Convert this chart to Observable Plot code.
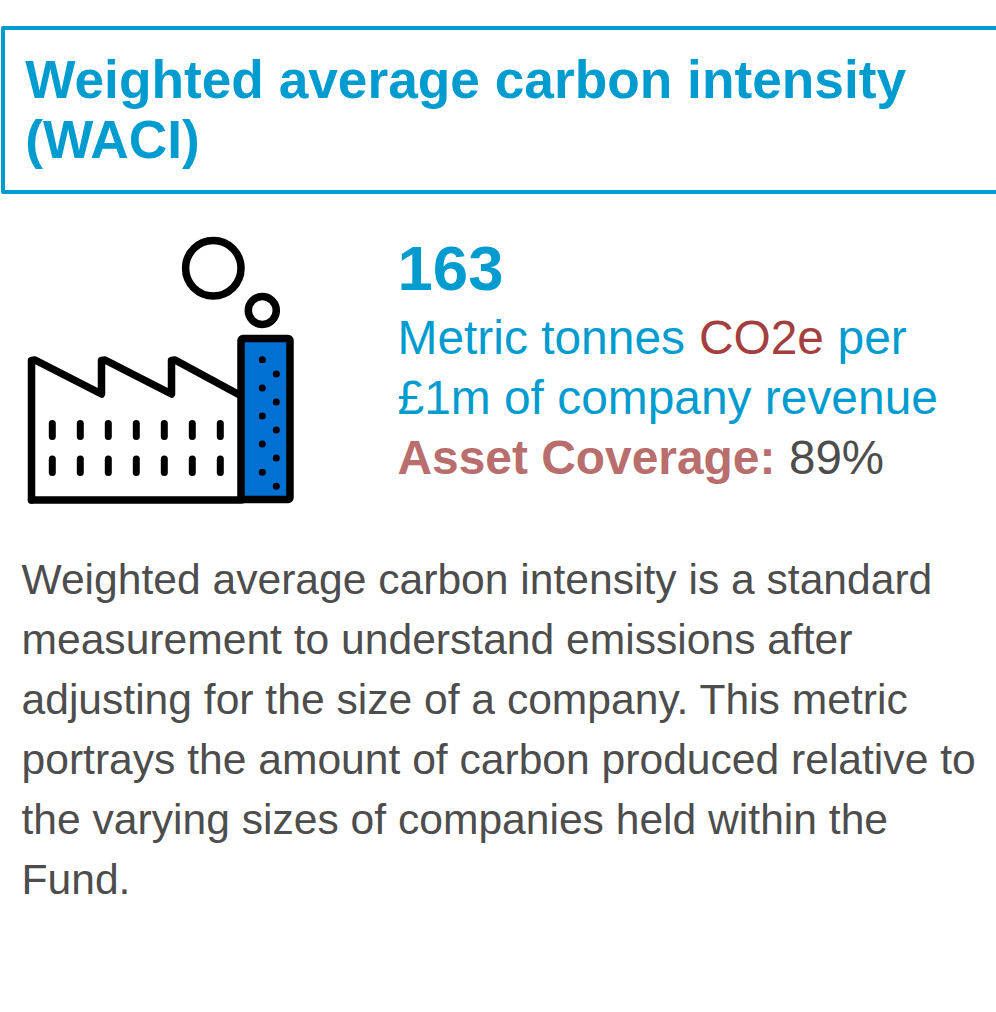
<!DOCTYPE html>
<html>
<head>
<meta charset="utf-8">
<style>html,body{margin:0;padding:0;background:#fff;overflow:hidden}svg{display:block}</style>
<script src="https://cdn.jsdelivr.net/npm/d3@7"></script>
<script src="https://cdn.jsdelivr.net/npm/@observablehq/plot@0.6"></script>
</head>
<body>
<div id="chart"></div>
<script>
const BLUE = "#009CCF", RED = "#A33F3F", ROSE = "#B96E6E", GREY = "#4D4D4D", BLACK = "#000000", STACK = "#0070D2";

// Header frame
const frameX = [997, 3.5, 3.5, 997];
const frameY = [28.5, 28.5, 192.5, 192.5];

// Text content
const boldText = ["Weighted average carbon intensity", "(WACI)", "163", "Asset Coverage:"];
const boldX = [25.7, 25.7, 398, 398];
const boldY = [98.5, 158.5, 290, 474];
const boldSize = [53.25, 53.25, 63.5, 47.9];
const boldFill = [BLUE, BLUE, BLUE, ROSE];

const regularText = ["Metric tonnes", "CO2e", "per", "£1m of company revenue", "89%",
  "Weighted average carbon intensity is a standard",
  "measurement to understand emissions after",
  "adjusting for the size of a company. This metric",
  "portrays the amount of carbon produced relative to",
  "the varying sizes of companies held within the",
  "Fund."];
const regularX = [398, 699.4, 838, 398, 789.5, 22, 22, 22, 22, 22, 22];
const regularY = [354, 354, 354, 414, 474, 594, 654, 714, 774, 834, 894];
const regularSize = [47.9, 47.9, 47.9, 47.9, 47.5, 42.6, 42.6, 42.6, 42.6, 42.6, 42.6];
const regularFill = [BLUE, RED, BLUE, BLUE, GREY, GREY, GREY, GREY, GREY, GREY, GREY];

// Factory icon
const roofX = [32, 32, 35.5, 102, 102, 105.5, 172, 172, 175.5, 242];
const roofY = [500.5, 361, 360.5, 394.5, 361, 360.5, 394.5, 361, 360.5, 396.5];
const baseX = [32, 242];
const baseY = [500.5, 500.5];
const stackX = [242, 291];
const stackY = [339.5, 500.5];
const bigPuff = {x: 213.8, y: 268.8};
const smallPuff = {x: 262.8, y: 311};
const soot1X = [262.8, 262.8, 262.8, 262.8, 262.8];
const soot1Y = [360.2, 388.5, 416.5, 444.5, 472.8];
const soot2X = [276.8, 276.8, 276.8, 276.8, 276.8];
const soot2Y = [374.5, 402.5, 430.5, 458.5, 486.8];
const windowX = [52.8, 80.8, 108.8, 136.8, 164.8, 192.8, 220.8];
const windowRows = [[424, 437], [459.5, 473]];

const idx = a => a.map((_, i) => i);
const pts = windowRows.flatMap(([a, b]) => windowX.map(x => ({x, a, b})));

const plot = Plot.plot({
  width: 996, height: 1012, margin: 0,
  x: {axis: null, domain: [0, 996], range: [-1, 995]},
  y: {axis: null, domain: [0, 1012], range: [-1, 1011]},
  color: {type: "identity"},
  style: {fontFamily: "'Liberation Sans', Arial, sans-serif", background: "#fff"},
  marks: [
    Plot.line(idx(frameX), {x: i => frameX[i], y: i => frameY[i], stroke: BLUE, strokeWidth: 4, curve: "linear"}),
    Plot.text(idx(boldText), {x: i => boldX[i], y: i => boldY[i], text: i => boldText[i], fontSize: i => boldSize[i], fill: i => boldFill[i], fontWeight: "bold", textAnchor: "start", lineAnchor: "bottom"}),
    Plot.text(idx(regularText), {x: i => regularX[i], y: i => regularY[i], text: i => regularText[i], fontSize: i => regularSize[i], fill: i => regularFill[i], textAnchor: "start", lineAnchor: "bottom"}),
    Plot.line(idx(roofX), {x: i => roofX[i], y: i => roofY[i], stroke: BLACK, strokeWidth: 7.5, strokeLinejoin: "round", strokeLinecap: "round"}),
    Plot.line(idx(baseX), {x: i => baseX[i], y: i => baseY[i], stroke: BLACK, strokeWidth: 7.5, strokeLinecap: "round"}),
    Plot.rect([0], {x1: stackX[0], x2: stackX[1], y1: stackY[0], y2: stackY[1], fill: STACK, stroke: BLACK, strokeWidth: 7.5, strokeLinejoin: "round", rx: 2}),
    Plot.dot([bigPuff], {x: "x", y: "y", r: 27.7, stroke: BLACK, strokeWidth: 7.5, fill: "none"}),
    Plot.dot([smallPuff], {x: "x", y: "y", r: 14, stroke: BLACK, strokeWidth: 7.5, fill: "none"}),
    Plot.dot(idx(soot1X), {x: i => soot1X[i], y: i => soot1Y[i], r: 3.5, fill: BLACK}),
    Plot.dot(idx(soot2X), {x: i => soot2X[i], y: i => soot2Y[i], r: 3.5, fill: BLACK}),
    Plot.link(pts, {x1: "x", x2: "x", y1: "a", y2: "b", stroke: BLACK, strokeWidth: 7, strokeLinecap: "round"})
  ]
});
document.getElementById("chart").append(plot);
</script>
</body>
</html>
